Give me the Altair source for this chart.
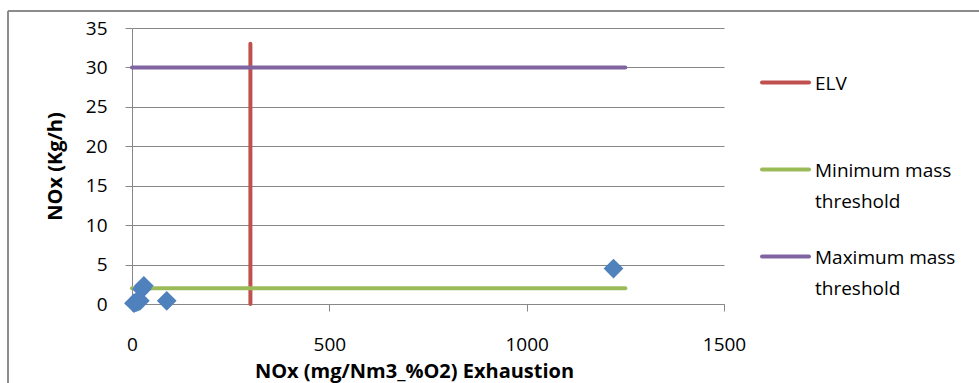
import altair as alt
import pandas as pd

# Measured emissions: concentration (mg/Nm3 at reference O2) vs mass flow (kg/h)
conc = [5, 10, 15, 20, 25, 30, 88, 1220]
mass = [0.1, 0.2, 0.3, 0.4, 1.9, 2.3, 0.4, 4.5]

# Reference lines: emission limit value and mass-flow thresholds
series = ["ELV", "ELV",
          "Minimum mass threshold", "Minimum mass threshold",
          "Maximum mass threshold", "Maximum mass threshold"]
line_x = [300, 300, 0, 1250, 0, 1250]
line_y = [0, 33, 2, 2, 30, 30]
order = [0, 1, 0, 1, 0, 1]

series_names = ["ELV", "Minimum mass threshold", "Maximum mass threshold"]
series_colors = ["#C0504D", "#9BBB59", "#8064A2"]
legend_lines = [["ELV"], ["Minimum mass", "threshold"], ["Maximum mass", "threshold"]]

points = pd.DataFrame({"conc": conc, "mass": mass})
lines = pd.DataFrame({"series": series, "x": line_x, "y": line_y, "order": order})

FONT = "Open Sans"
GRID = "#878787"
LABEL_SIZE = 19
TITLE_SIZE = 20

x_scale = alt.Scale(domain=[0, 1500], nice=False)
y_scale = alt.Scale(domain=[0, 35], nice=False)

x_axis = alt.Axis(
    title="NOx (mg/Nm3_%O2) Exhaustion", format="d",
    values=[0, 500, 1000, 1500], grid=False,
    domainColor=GRID, tickColor=GRID, tickSize=7,
    labelPadding=24, labelFontSize=LABEL_SIZE, labelFont=FONT, labelColor="#000",
    labelOverlap=False, labelFlush=False,
    titleFont=FONT, titleFontSize=TITLE_SIZE, titleFontWeight="bold", titlePadding=7,
    titleColor="#000", titleX=282,
)
y_axis = alt.Axis(
    title="NOx (Kg/h)", format="d",
    values=[0, 5, 10, 15, 20, 25, 30, 35], grid=True, gridColor=GRID,
    gridOpacity=1, domainColor=GRID, tickColor=GRID, tickSize=7,
    labelPadding=18, labelFontSize=LABEL_SIZE, labelFont=FONT, labelColor="#000",
    labelOverlap=False, labelFlush=False,
    titleFont=FONT, titleFontSize=TITLE_SIZE, titleFontWeight="bold", titlePadding=20,
    titleColor="#000",
)

ref_lines = alt.Chart(lines).mark_line(strokeWidth=4, strokeCap="round").encode(
    x=alt.X("x:Q", scale=x_scale, axis=x_axis),
    y=alt.Y("y:Q", scale=y_scale, axis=y_axis),
    detail="series:N",
    order="order:Q",
    color=alt.Color(
        "series:N",
        scale=alt.Scale(domain=series_names, range=series_colors),
        legend=None,
    ),
)

scatter = alt.Chart(points).mark_point(
    shape="diamond", filled=True, size=390, color="#4F81BD", opacity=1
).encode(
    x=alt.X("conc:Q", scale=x_scale, axis=x_axis),
    y=alt.Y("mass:Q", scale=y_scale, axis=y_axis),
)

# Legend drawn as line swatches with wrapped labels
legend_layers = []
LEG_TOP = 54.5
LEG_STEP = 87
LINE_STEP = 31
one = pd.DataFrame({"k": [0]})
for i, (name, color, text_lines) in enumerate(zip(series_names, series_colors, legend_lines)):
    ly = LEG_TOP + LEG_STEP * i
    legend_layers.append(
        alt.Chart(one).mark_rule(color=color, strokeWidth=4, strokeCap="round").encode(
            x=alt.value(630), x2=alt.value(677), y=alt.value(ly)
        )
    )
    for j, t in enumerate(text_lines):
        legend_layers.append(
            alt.Chart(one).mark_text(
                text=t, align="left", baseline="middle", font=FONT,
                fontSize=LABEL_SIZE, color="#000",
            ).encode(x=alt.value(683), y=alt.value(ly + 1.5 + LINE_STEP * j))
        )

# Outer chart frame
frame_left = alt.Chart(one).mark_rule(color="#8c8c8c", strokeWidth=2).encode(
    x=alt.value(-124), y=alt.value(-17), y2=alt.value(400)
)
frame_top = alt.Chart(one).mark_rule(color="#8c8c8c", strokeWidth=2).encode(
    x=alt.value(-124), x2=alt.value(900), y=alt.value(-17)
)

chart = alt.layer(ref_lines, scatter, *legend_layers, frame_left, frame_top).properties(
    width=592, height=276,
    autosize=alt.AutoSizeParams(type="none"),
    padding={"left": 132, "top": 28, "right": 255, "bottom": 79},
    background="white",
).configure_view(stroke=None)

chart.save("out.html", embed_options={"renderer": "svg", "actions": False})
